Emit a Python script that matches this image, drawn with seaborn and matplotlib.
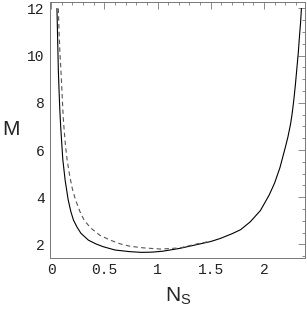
import matplotlib
matplotlib.use("Agg")
import matplotlib.pyplot as plt
import seaborn as sns
import pandas as pd
from matplotlib.ticker import MultipleLocator

# values
ns_solid = [0.055, 0.062, 0.068, 0.075, 0.082, 0.09, 0.097, 0.11, 0.132, 0.16, 0.185, 0.21, 0.245,
            0.28, 0.35, 0.42, 0.49, 0.60, 0.74, 0.85, 0.95, 1.05, 1.21, 1.40, 1.50, 1.59, 1.70,
            1.78, 1.87, 1.966, 2.0, 2.05, 2.10, 2.15, 2.20, 2.225, 2.25, 2.265, 2.28, 2.295,
            2.31, 2.323, 2.335, 2.344, 2.352]
m_solid = [12.0, 10.6, 9.4, 8.5, 7.7, 7.0, 6.5, 5.6, 4.72, 3.9, 3.4, 3.03, 2.72,
           2.47, 2.18, 2.02, 1.90, 1.76, 1.69, 1.66, 1.67, 1.71, 1.83, 2.02, 2.12, 2.25, 2.45,
           2.62, 2.95, 3.43, 3.7, 4.1, 4.6, 5.25, 6.1, 6.55, 7.1, 7.55, 8.1, 8.75,
           9.5, 10.15, 10.9, 11.4, 12.0]

ns_dash = [0.068, 0.075, 0.082, 0.091, 0.1, 0.106, 0.115, 0.122, 0.135, 0.15, 0.175, 0.2, 0.23,
           0.27, 0.31, 0.37, 0.46, 0.555, 0.65, 0.74, 0.87, 1.03, 1.21, 1.40, 1.50]
m_dash = [12.0, 11.0, 10.2, 9.5, 8.7, 8.1, 7.3, 6.9, 6.2, 5.6, 4.9, 4.35, 3.88,
          3.4, 3.03, 2.7, 2.38, 2.18, 2.02, 1.92, 1.85, 1.80, 1.85, 2.05, 2.13]

solid = pd.DataFrame({"Ns": ns_solid, "M": m_solid})
dashed = pd.DataFrame({"Ns": ns_dash, "M": m_dash})

sns.set_style("white")
plt.rcParams["mathtext.fontset"] = "custom"
plt.rcParams["mathtext.rm"] = "Liberation Sans"

fig = plt.figure(figsize=(3.07, 3.14), dpi=100)
ax = fig.add_axes([0.164, 0.179, 0.831, 0.815])

sns.lineplot(data=solid, x="Ns", y="M", color="black", lw=0.8, sort=False, ax=ax)
sns.lineplot(data=dashed, x="Ns", y="M", color="#555555", lw=0.8, sort=False,
             linestyle=(0, (4, 3)), ax=ax)

ax.set_xlim(-0.007, 2.39)
ax.set_ylim(1.43, 12.28)

ax.xaxis.set_major_locator(MultipleLocator(0.5))
ax.xaxis.set_minor_locator(MultipleLocator(0.1))
ax.yaxis.set_major_locator(MultipleLocator(2))
ax.yaxis.set_minor_locator(MultipleLocator(0.5))
ax.xaxis.set_major_formatter(plt.FuncFormatter(lambda v, p: f"{v:g}"))

ax.tick_params(which="both", direction="in", top=True, right=True, color="#777777", width=0.6)
ax.tick_params(which="major", length=5)
ax.tick_params(which="minor", length=2.5)
ax.tick_params(labeltop=False, labelright=False, labelsize=10.5, pad=4, labelcolor="#222222")
for lab in ax.get_xticklabels() + ax.get_yticklabels():
    lab.set_family("Liberation Mono")

for s in ax.spines.values():
    s.set_color("#777777")
    s.set_linewidth(0.7)

ax.set_xlabel(r"N$_{\rm S}$", fontsize=15, family="Liberation Sans", labelpad=6)
ax.set_ylabel("M", fontsize=15, family="Liberation Sans", rotation=0, labelpad=12, va="center")

fig.savefig("out.png", dpi=100)
